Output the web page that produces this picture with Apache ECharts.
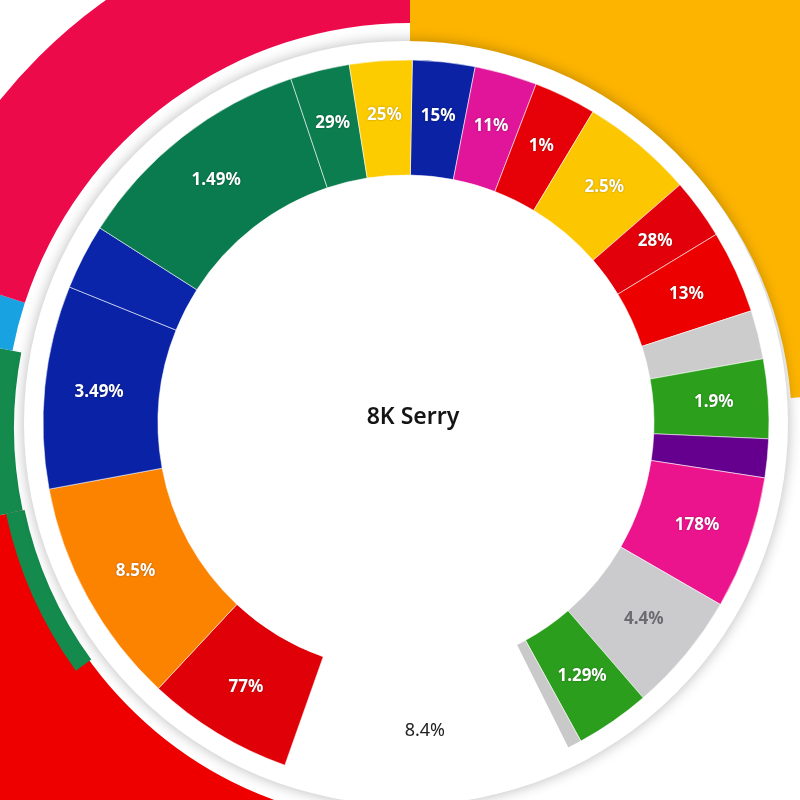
<!DOCTYPE html>
<html><head><meta charset="utf-8">
<script src="https://cdn.jsdelivr.net/npm/echarts@6/dist/echarts.min.js"></script>
<style>html,body{margin:0;padding:0;background:#fff}#c{width:800px;height:800px}</style>
</head><body><div id="c"></div>
<script>
// ---- data (slice sizes, clockwise from the top) ----
const sliceNames  = ['S1','S2','S3','S4','S5','S6','S7','S8','S9','S10','S11','S12','S13','S14','S15','S16','S17','S18','S19','S20','S21'];
const sliceLabels = ['15%','11%','1%','2.5%','28%','13%','','1.9%','','178%','4.4%','1.29%','','8.4%','77%','8.5%','3.49%','','1.49%','29%','25%'];
const sliceValues = [10,10,10,18,9.7,13.3,7.8,12.7,6.2,21.3,19.2,12,2.3,46,23.5,36.5,32.5,10.5,39,9.5,10];
const centerTitle = '8K Serry';
// backdrop arcs (sizes in degrees, clockwise from the top)
const yellowArc    = [85.5, 274.5];
const redGreenArc  = [197, 61, 23, 79];
const blueCrimsonArc = [281, 7, 72];
const thinGreenArc = [234, 24, 102];

// ---- styles ----
const palette = ['#0a22a3','#e0159a','#e60008','#fcc700','#e2000a','#ec0000','#cccccc','#2ca01c','#65008e',
                 '#ec148c','#cbcbcd','#2c9e1e','#c9c9c9','#ffffff','#e00008','#fb8300','#0a23a6','#0a25aa',
                 '#0a7b4f','#0b7d4e','#fccb00'];
const CENTER = [406, 423];
const T = 'rgba(0,0,0,0)';

function arcSeries(values, colors, radius, z) {
  return {
    type: 'pie', center: [410, 428], radius: radius, startAngle: 90, clockwise: true,
    silent: true, animation: false, z: z, label: {show: false}, labelLine: {show: false},
    emphasis: {disabled: true},
    data: values.map((v, i) => ({value: v, itemStyle: {color: colors[i]}}))
  };
}

const donutData = sliceValues.map((v, i) => {
  const item = {name: sliceNames[i], value: v, itemStyle: {color: palette[i]}};
  if (sliceLabels[i] === '8.4%') item.label = {color: '#222', fontWeight: 'normal', textShadowBlur: 0, fontSize: 18};
  if (sliceLabels[i] === '4.4%') item.label = {color: '#6c6c70', textShadowBlur: 0};
  return item;
});

const chart = echarts.init(document.getElementById('c'), null, {renderer: 'canvas'});
chart.setOption({
  backgroundColor: '#ffffff',
  animation: false,
  series: [
    arcSeries(yellowArc, ['#fdb400', T], [382, 760], 1),
    arcSeries(redGreenArc, [T, '#ee0000', '#148a4c', T], [396, 760], 2),
    arcSeries(blueCrimsonArc, [T, '#19a2e2', '#ec0a4b'], [405, 525], 3),
    arcSeries(thinGreenArc, [T, '#148a4c', T], [394, 413], 4),
    {
      type: 'pie', center: CENTER, radius: [352, 382], silent: true, animation: false, z: 5,
      label: {show: false}, labelLine: {show: false}, emphasis: {disabled: true},
      data: [{value: 1, itemStyle: {color: '#ffffff', shadowBlur: 14, shadowColor: 'rgba(0,0,0,0.28)'}}]
    },
    {
      type: 'pie', center: CENTER, radius: [248, 363], startAngle: 89, clockwise: true,
      animation: false, z: 6, avoidLabelOverlap: false, minAngle: 0,
      itemStyle: {borderColor: 'rgba(255,255,255,0.55)', borderWidth: 1},
      label: {
        show: true, position: 'inside',
        formatter: p => sliceLabels[p.dataIndex],
        color: '#ffffff', fontSize: 17, fontWeight: 'bold', fontFamily: 'Noto Sans',
        textShadowColor: 'rgba(0,0,0,0.35)', textShadowBlur: 2
      },
      labelLine: {show: false},
      data: donutData
    }
  ],
  graphic: [{
    type: 'text', z: 10,
    style: {x: 413, y: 417, text: centerTitle, align: 'center', verticalAlign: 'middle',
            fill: '#151515', font: '600 23px "Noto Sans"'}
  }]
});
</script></body></html>
